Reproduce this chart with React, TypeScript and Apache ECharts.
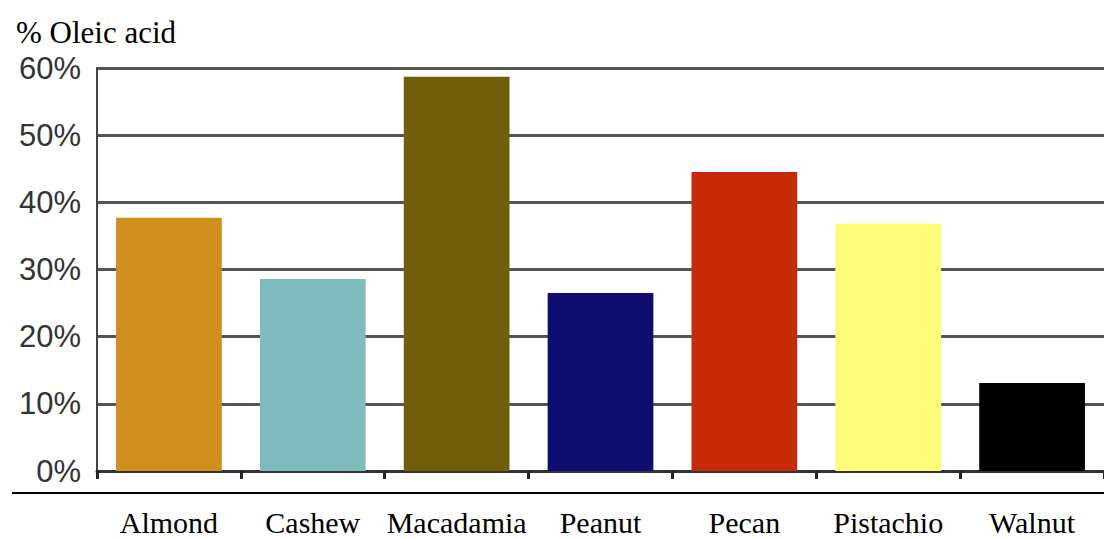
import React, { useEffect, useRef } from "react";
import * as echarts from "echarts";

const categories = ["Almond", "Cashew", "Macadamia", "Peanut", "Pecan", "Pistachio", "Walnut"];
const oleicValues = [37.7, 28.6, 58.7, 26.5, 44.5, 36.8, 13.1];
const barColors = ["#D08E1C", "#80BBBD", "#705F0A", "#0F0E6E", "#C62A08", "#FDFD7A", "#000000"];
const yTicks = { min: 0, max: 60, interval: 10 };
const titleText = "% Oleic acid";

const SERIF = "'Liberation Serif', 'Times New Roman', Times, serif";

export default function App() {
  const ref = useRef<HTMLDivElement>(null);
  useEffect(() => {
    if (!ref.current) return;
    const chart = echarts.init(ref.current, null, { renderer: "svg" });
    chart.setOption({
      animation: false,
      backgroundColor: "#ffffff",
      title: {
        text: titleText,
        left: 11,
        top: 12,
        textStyle: {
          fontFamily: SERIF,
          fontSize: 31,
          fontWeight: "normal",
          color: "#000",
        },
      },
      grid: { left: 97, top: 68, height: 403, width: 1019 },
      xAxis: {
        type: "category",
        data: categories,
        axisLine: { show: true, lineStyle: { color: "#333", width: 3 } },
        axisTick: { show: true, length: 8, lineStyle: { color: "#222", width: 3 } },
        axisLabel: {
          margin: 36,
          fontFamily: SERIF,
          fontSize: 30,
          lineHeight: 30,
          color: "#000",
          interval: 0,
        },
        splitLine: { show: false },
      },
      yAxis: {
        type: "value",
        min: yTicks.min,
        max: yTicks.max,
        interval: yTicks.interval,
        axisLine: { show: true, lineStyle: { color: "#444", width: 2 } },
        axisTick: { show: false },
        axisLabel: {
          formatter: "{value}%",
          margin: 16,
          fontFamily: "'Liberation Sans', Arial, sans-serif",
          fontSize: 31,
          color: "#333",
        },
        splitLine: { show: true, lineStyle: { color: "#555", width: 3 } },
      },
      graphic: [
        {
          type: "line",
          shape: { x1: 12, y1: 493, x2: 1104, y2: 493 },
          style: { stroke: "#000", lineWidth: 2 },
        },
      ],
      series: [
        {
          type: "bar",
          barWidth: "73.5%",
          data: oleicValues.map((v, i) => ({ value: v, itemStyle: { color: barColors[i] } })),
        },
      ],
    });
    return () => chart.dispose();
  }, []);
  return (
    <div
      ref={ref}
      style={{ position: "fixed", left: 0, top: 0, width: 1104, height: 539 }}
    />
  );
}
